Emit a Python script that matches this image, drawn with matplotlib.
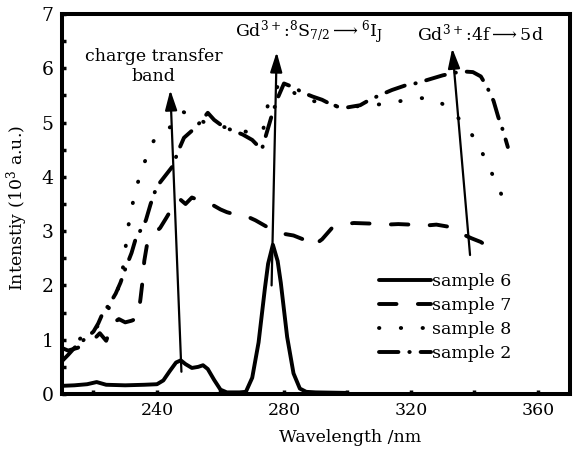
import numpy as np
import matplotlib
matplotlib.use("Agg")
import matplotlib.pyplot as plt

# sample 6 (solid)
wl6 = [210, 214, 218, 221, 224, 230, 236, 240, 242, 244, 246, 247.5, 249, 251, 253, 254.5,
       256, 258, 260, 262, 266, 268, 270, 272, 274, 275, 276.5, 278, 279, 281, 283, 285, 287,
       290, 300]
i6 = [0.15, 0.16, 0.18, 0.22, 0.17, 0.16, 0.17, 0.18, 0.25, 0.42, 0.58, 0.62, 0.55, 0.48, 0.5, 0.53,
      0.46, 0.26, 0.08, 0.03, 0.03, 0.04, 0.3, 0.95, 1.95, 2.4, 2.75, 2.45, 2.05, 1.05, 0.38, 0.1, 0.04,
      0.03, 0.02]

# sample 7 (dashed)
wl7 = [210, 212, 215, 218, 220, 222, 224, 226, 228, 230, 232, 234, 234.8, 235.5, 236, 237, 239,
       241, 243, 245, 247, 249, 251, 254, 257, 260, 262, 265, 268, 271, 274, 277, 280, 283, 286,
       289, 292, 295, 298, 302, 307, 312, 316, 320, 324, 328, 332, 336, 339, 342, 345]
i7 = [0.85, 0.8, 0.85, 0.95, 1.0, 1.12, 0.98, 1.3, 1.38, 1.32, 1.35, 1.4, 1.75, 2.1, 2.45, 2.8, 2.95,
      3.06, 3.25, 3.45, 3.6, 3.5, 3.62, 3.55, 3.5, 3.4, 3.35, 3.3, 3.28, 3.2, 3.1, 3.0, 2.95, 2.92, 2.85,
      2.72, 2.85, 3.05, 3.12, 3.15, 3.14, 3.12, 3.13, 3.12, 3.1, 3.12, 3.08, 2.95, 2.87, 2.8, 2.68]

# sample 8 (dotted)
wl8 = [210, 213, 216, 219, 222, 225, 227, 229, 230, 231, 232.5, 234, 236, 237.5, 239.5, 242, 245,
       248, 251, 255, 258, 261, 264, 267, 270, 272, 273.5, 275, 277, 279, 282, 285, 289, 293, 297,
       301, 305, 309, 313, 317, 321, 325, 328, 331, 334, 337, 340, 342, 344, 346, 348, 350]
i8 = [0.95, 0.88, 1.03, 1.09, 1.3, 1.6, 1.78, 2.2, 2.65, 3.1, 3.55, 3.9, 4.25, 4.5, 4.72, 4.83, 4.95,
      5.2, 5.14, 5.0, 4.95, 4.92, 4.88, 4.85, 4.8, 4.78, 4.88, 5.35, 5.6, 5.72, 5.6, 5.47, 5.4, 5.35, 5.3,
      5.3, 5.3, 5.33, 5.35, 5.4, 5.45, 5.45, 5.42, 5.3, 5.14, 4.95, 4.71, 4.5, 4.25, 4.0, 3.75, 3.42]

# sample 2 (dash-dot)
wl2 = [210, 212, 214, 216, 218, 220, 221.5, 223, 225, 227, 228.5, 230, 232, 233.5, 235, 236.5, 238,
       239.5, 241, 243, 245, 246.5, 248.5, 251, 253.5, 256, 258, 261, 264, 267, 270, 273, 274.5, 276,
       278, 280, 283, 286, 289, 292, 296, 300, 304, 307, 310, 314, 318, 322, 326, 330, 334, 337,
       339.5, 342, 344, 346, 347.5, 349, 350.5]
i2 = [0.6, 0.72, 0.85, 0.95, 1.05, 1.15, 1.3, 1.5, 1.65, 1.85, 2.05, 2.3, 2.6, 2.9, 3.03, 3.2, 3.5,
      3.75, 3.9, 4.05, 4.2, 4.45, 4.72, 4.85, 5.0, 5.18, 5.05, 4.92, 4.85, 4.78, 4.68, 4.5, 4.8, 5.1,
      5.45, 5.72, 5.65, 5.55, 5.48, 5.42, 5.3, 5.28, 5.32, 5.42, 5.5, 5.6, 5.68, 5.73, 5.8, 5.87, 5.92,
      5.94, 5.93, 5.85, 5.65, 5.4, 5.1, 4.85, 4.55]

# arrows: (tail, tip) in data units
flechas = [((247.7, 0.41), (244.2, 5.6)),
           ((276.1, 2.0), (277.7, 6.3)),
           ((338.6, 2.56), (333.0, 6.37))]

plt.rcParams['font.family'] = 'DejaVu Serif'
plt.rcParams['mathtext.fontset'] = 'dejavuserif'
plt.rcParams['font.size'] = 12.5

fig = plt.figure(figsize=(5.79, 4.49), dpi=100)
ax = fig.add_axes([0.1066, 0.1225, 0.8774, 0.8463])

lw = 2.8
ax.plot(wl6, i6, color='black', lw=lw, solid_capstyle='round', solid_joinstyle='round', label='sample 6')
ax.plot(wl7, i7, color='black', lw=lw, linestyle=(0, (4.5, 5.5)), dash_capstyle='round', label='sample 7')
ax.plot(wl8, i8, color='black', lw=lw, linestyle=(0, (0.1, 5.5)), dash_capstyle='round', label='sample 8')
ax.plot(wl2, i2, color='black', lw=lw, linestyle=(0, (5, 2.8, 0.1, 2.8)), dash_capstyle='round', label='sample 2')

for tail, tip in flechas:
    ax.annotate('', xy=tip, xytext=tail,
                arrowprops=dict(arrowstyle='-|>,head_length=1.2,head_width=0.36',
                                color='black', lw=1.6, mutation_scale=10, shrinkA=0, shrinkB=0))

ax.text(239, 6.03, 'charge transfer\nband', ha='center', va='center', linespacing=1.25)
ax.text(287.7, 6.67, r'Gd$^{3+}$:$^{8}$S$_{7/2}$$\longrightarrow$$^{6}$I$_{\mathrm{J}}$',
        ha='center', va='center')
ax.text(342, 6.65, r'Gd$^{3+}$:4f$\longrightarrow$5d', ha='center', va='center')

ax.set_xlim(210, 370)
ax.set_ylim(0, 7)
ax.set_xticks([240, 280, 320, 360])
ax.set_xticks(np.arange(220, 370, 20), minor=True)
ax.set_yticks(range(8))
ax.set_yticks(np.arange(0.5, 7, 0.5), minor=True)
ax.tick_params(which='both', direction='in', length=3, width=2.5, top=False, right=False, pad=6)
ax.tick_params(axis='y', labelsize=13.5)

for s in ax.spines.values():
    s.set_linewidth(2.9)

ax.set_xlabel('Wavelength /nm')
ax.xaxis.set_label_coords(0.567, -0.092)
ax.set_ylabel('Intenstiy (10$^3$ a.u.)')
ax.yaxis.set_label_coords(-0.062, 0.49)

ax.legend(loc='upper left', bbox_to_anchor=(0.625, 0.318), frameon=False, handlelength=3.0,
          handletextpad=0.05, labelspacing=0.4, borderpad=0, borderaxespad=0)

fig.savefig('out.png', dpi=100)
